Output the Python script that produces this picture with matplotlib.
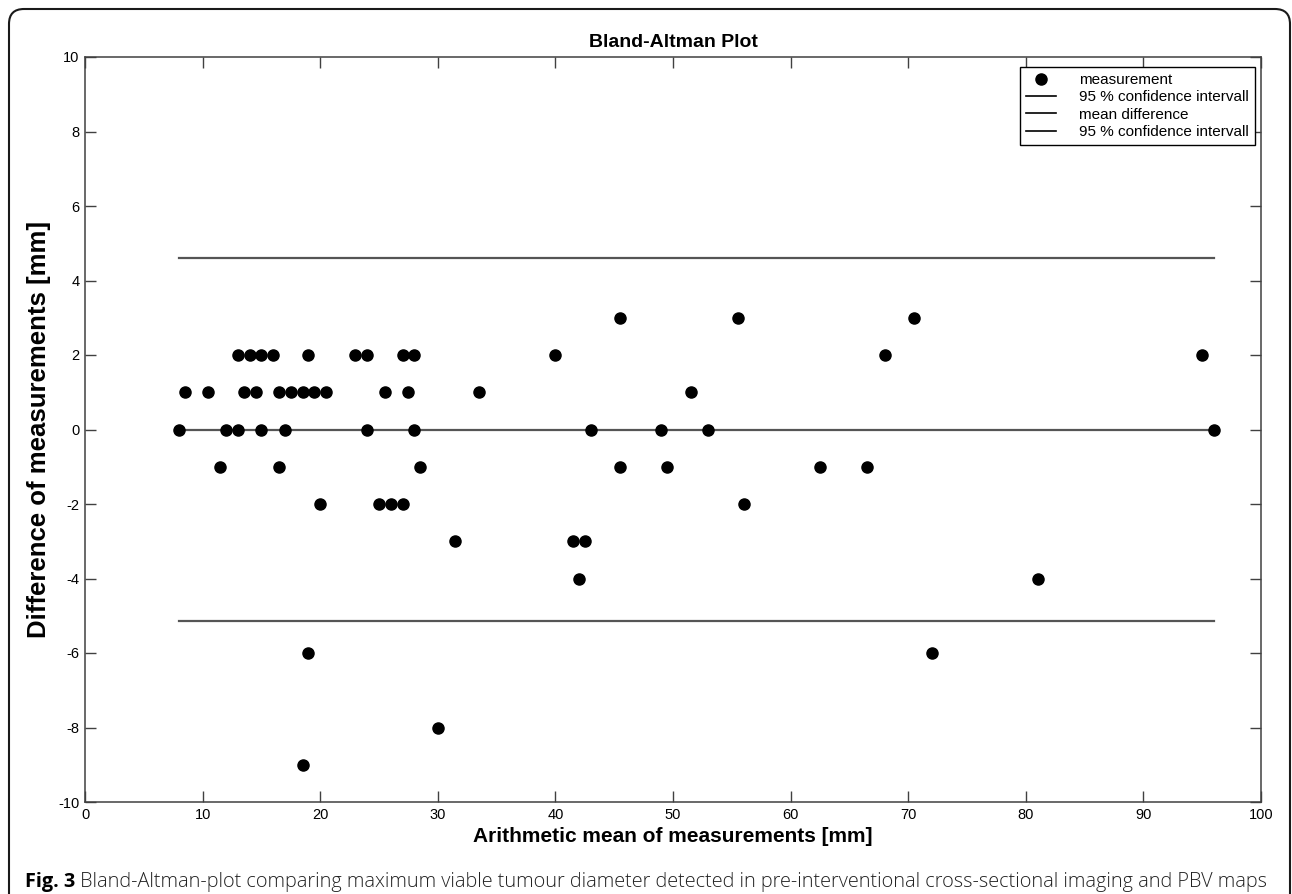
import matplotlib
matplotlib.use("Agg")
import matplotlib.pyplot as plt
from matplotlib.patches import FancyBboxPatch
from matplotlib.transforms import IdentityTransform

# ---- data ----
mean_x = [13, 14, 15, 16, 19, 23, 24, 27, 28, 40, 68, 95,
          45.5, 55.5, 70.5,
          8.5, 10.5, 13.5, 14.5, 16.5, 17.5, 18.5, 19.5, 20.5, 25.5, 27.5, 33.5, 51.5,
          8, 12, 13, 15, 17, 24, 28, 43, 49, 53, 96,
          11.5, 16.5, 28.5, 45.5, 49.5, 62.5, 66.5,
          20, 25, 26, 27, 56,
          31.5, 41.5, 42.5,
          42, 81,
          19, 72,
          30,
          18.5]
diff_y = [2] * 12 + [3] * 3 + [1] * 13 + [0] * 11 + [-1] * 7 + [-2] * 5 + \
         [-3] * 3 + [-4] * 2 + [-6] * 2 + [-8] + [-9]

ci_upper = 4.6
mean_diff_line = 0.0
ci_lower = -5.15
line_x = [min(mean_x), max(mean_x)]

x_ticks = list(range(0, 101, 10))
y_ticks = list(range(-10, 11, 2))

title = "Bland-Altman Plot"
xlabel = "Arithmetic mean of measurements [mm]"
ylabel = "Difference of measurements [mm]"
legend_labels = ["measurement", "95 % confidence intervall",
                 "mean difference", "95 % confidence intervall"]
caption_bold = "Fig. 3"
caption_rest = (" Bland-Altman-plot comparing maximum viable tumour diameter detected "
                "in pre-interventional cross-sectional imaging and PBV maps")

# ---- figure ----
W, H, DPI = 1292, 894, 100
plt.rcParams['font.family'] = ['Liberation Sans', 'DejaVu Sans']
plt.rcParams['axes.unicode_minus'] = False
fig = plt.figure(figsize=(W / DPI, H / DPI), dpi=DPI)
fig.patch.set_facecolor("white")

ax_l, ax_r, ax_t, ax_b = 85, 1261, 57, 802
ax = fig.add_axes([ax_l / W, 1 - ax_b / H, (ax_r - ax_l) / W, (ax_b - ax_t) / H])

line_color = "#555555"
pts, = ax.plot(mean_x, diff_y, linestyle="none", marker="o", markersize=8,
               color="black", label=legend_labels[0], zorder=3)
l1, = ax.plot(line_x, [ci_upper] * 2, color=line_color, lw=1.6, label=legend_labels[1])
l2, = ax.plot(line_x, [mean_diff_line] * 2, color=line_color, lw=1.6, label=legend_labels[2])
l3, = ax.plot(line_x, [ci_lower] * 2, color=line_color, lw=1.6, label=legend_labels[3])

ax.set_xlim(0, 100)
ax.set_ylim(-10, 10)
ax.set_xticks(x_ticks)
ax.set_yticks(y_ticks)
ax.tick_params(direction="in", length=8, width=1.0, color="#404040",
               top=True, right=True, labelsize=10.5, pad=4)
for sp in ax.spines.values():
    sp.set_color("#404040")
    sp.set_linewidth(1.1)

ax.set_title(title, fontsize=14, fontweight="bold", pad=7)
ax.set_xlabel(xlabel, fontsize=15, fontweight="bold")
ax.set_ylabel(ylabel, fontsize=18.5, fontweight="bold")
ax.xaxis.set_label_coords(0.5, -0.034)
ax.yaxis.set_label_coords(-0.029, 0.5)

leg = ax.legend(handles=[pts, l1, l2, l3], loc="upper right",
                bbox_to_anchor=(0.9949, 0.9866), borderaxespad=0,
                fancybox=False, framealpha=1, edgecolor="black",
                fontsize=11, handlelength=2.0, handletextpad=1.5,
                labelspacing=0.22, borderpad=0.4)
leg.get_frame().set_linewidth(1.0)
for h in leg.legend_handles[1:]:
    h.set_color("black")
    h.set_linewidth(1.2)

# caption
cap_y = 1 - 882 / H
t1 = fig.text(25 / W, cap_y, caption_bold, fontsize=14.3, fontweight="bold",
              family=["Open Sans", "DejaVu Sans"], va="center", ha="left")
fig.canvas.draw()
bb = t1.get_window_extent()
fig.text(bb.x1 / W, cap_y, caption_rest, fontsize=14.3, fontweight="light",
         family=["Open Sans", "DejaVu Sans"], va="center", ha="left", color="#222222")

# rounded outer frame (open at bottom)
frame = FancyBboxPatch((9, -30), 1281, (H - 9) + 30,
                       boxstyle="round,pad=0,rounding_size=15",
                       transform=IdentityTransform(), fill=False,
                       edgecolor="#1a1a1a", linewidth=1.5)
fig.patches.append(frame)

fig.savefig("out.png", dpi=DPI)
